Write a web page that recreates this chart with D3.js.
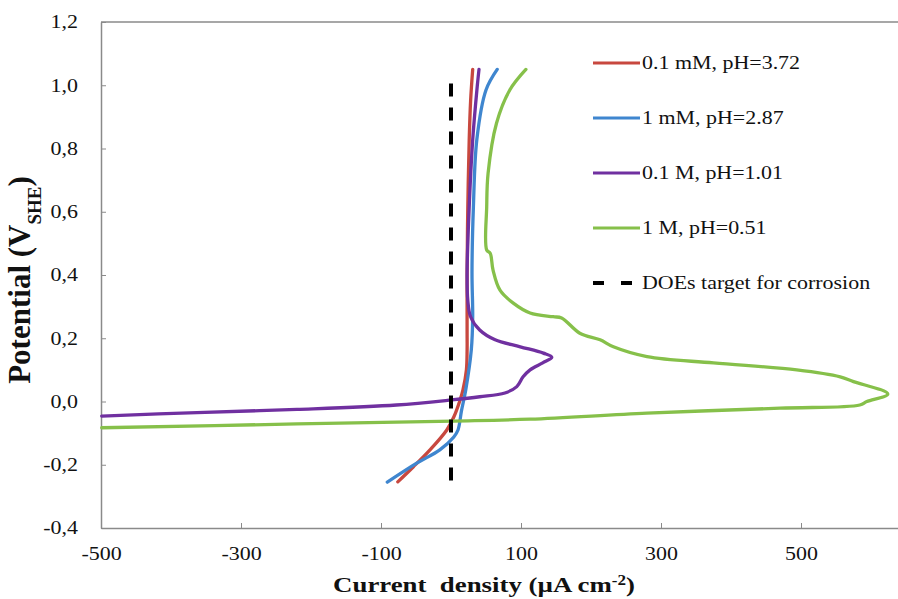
<!DOCTYPE html>
<html>
<head>
<meta charset="utf-8">
<script src="https://cdn.jsdelivr.net/npm/d3@7"></script>
<style>
	body { margin: 0; background: #fff; }
	svg { display: block; }
	text { font-family: "Liberation Serif", "Times New Roman", serif; }
</style>
</head>
<body>
<svg id="chart" width="898" height="599"></svg>
<script>
// polarisation curves, [current density µA/cm², potential V]
const red01mM = [[-76,-0.254],[-54,-0.207],[-30,-0.153],[-6,-0.09],[4,-0.049],[13,0.005],[17,0.036],[22,0.1],[23,0.163],[23,0.226],[23,0.406],[24,0.615],[26,0.827],[28,0.95],[31,1.05]];
const blue1mM = [[-91,-0.255],[-49,-0.195],[-16,-0.153],[4,-0.112],[10,-0.09],[15,-0.029],[21,0.036],[29,0.163],[31,0.268],[30,0.406],[32,0.615],[37,0.83],[50,0.985],[66,1.05]];
const purple01M = [[-499,-0.046],[-363,-0.035],[-220,-0.025],[-78,-0.011],[1,0.005],[41,0.015],[77,0.027],[94,0.047],[103,0.078],[113,0.1],[131,0.122],[144,0.14],[132,0.153],[99,0.173],[63,0.195],[41,0.226],[28,0.268],[24,0.32],[23,0.406],[26,0.615],[31,0.827],[37,0.985],[40,1.05]];
const green1M = [[-499,-0.083],[-220,-0.071],[3,-0.062],[113,-0.056],[280,-0.037],[470,-0.021],[584,-0.011],[594,0.0],[624,0.024],[575,0.063],[556,0.078],[494,0.1],[375,0.122],[280,0.142],[232,0.173],[213,0.195],[184,0.216],[158,0.264],[146,0.268],[113,0.28],[89,0.311],[70,0.352],[60,0.416],[56,0.469],[51,0.479],[51,0.616],[53,0.722],[65,0.88],[84,0.985],[107,1.05]];
const doeTarget = [[0,-0.25],[0,1.03]];

const seriesNames = ['0.1 mM, pH=3.72','1 mM, pH=2.87','0.1 M, pH=1.01','1 M, pH=0.51','DOEs target for corrosion'];
const seriesColors = ['#c8483f','#3f86cf','#7030a0','#86c04a','#000'];
const xTicks = [-500,-300,-100,100,300,500];
const yTicks = [-0.4,-0.2,0,0.2,0.4,0.6,0.8,1.0,1.2];

const svg = d3.select('#chart');
const font = '"Liberation Serif", "Times New Roman", serif';
const stretch = 1.22; // the source picture is widened a bit

const x = d3.scaleLinear().domain([-500,700]).range([101,941]);
const y = d3.scaleLinear().domain([-0.4,1.2]).range([528,22]);

const locale = d3.formatLocale({decimal: ',', thousands: '.', grouping: [3], currency: ['',''], minus: '-'});
const fmtY = locale.format('.1f');

const axisColor = '#8a8a8a';

// frame top line
svg.append('line')
	.attr('x1', x(-500)).attr('x2', 898)
	.attr('y1', y(1.2)).attr('y2', y(1.2))
	.attr('stroke', axisColor).attr('stroke-width', 1.5);

const xAxis = svg.append('g')
	.attr('transform', `translate(0,${y(-0.4)})`)
	.call(d3.axisBottom(x).tickValues(xTicks).tickSizeInner(-5).tickSizeOuter(0).tickPadding(19).tickFormat(d => String(d)));

const yAxis = svg.append('g')
	.attr('transform', `translate(${x(-500)},0)`)
	.call(d3.axisLeft(y).tickValues(yTicks).tickSizeInner(-5).tickSizeOuter(0).tickFormat(fmtY));

[xAxis, yAxis].forEach(a => {
	a.attr('font-family', null).attr('font-size', null);
	a.select('.domain').attr('stroke', axisColor).attr('stroke-width', 1.5);
	a.selectAll('.tick line').attr('stroke', axisColor).attr('stroke-width', 1);
	a.selectAll('.tick text')
		.attr('fill', '#111')
		.style('font-family', font)
		.style('font-size', '18px');
});
xAxis.selectAll('.tick text').attr('transform', `scale(${stretch},1)`);
yAxis.selectAll('.tick text')
	.attr('x', -23 / stretch)
	.attr('transform', `scale(${stretch},1)`);

// axis titles
const xTitle = svg.append('text')
	.attr('transform', `translate(484,592) scale(${stretch},1)`)
	.attr('text-anchor', 'middle')
	.style('font-family', font)
	.style('font-weight', 'bold')
	.style('font-size', '22px')
	.attr('fill', '#111');
xTitle.append('tspan').text('Current\u00a0 density (µA cm');
xTitle.append('tspan').attr('baseline-shift', 'super').style('font-size', '14px').text('-2');
xTitle.append('tspan').text(')');

const yTitle = svg.append('text')
	.attr('transform', 'translate(30,280) rotate(-90)')
	.attr('text-anchor', 'middle')
	.style('font-family', font)
	.style('font-weight', 'bold')
	.style('font-size', '31px')
	.attr('fill', '#111');
yTitle.append('tspan').text('Potential (V');
yTitle.append('tspan').attr('baseline-shift', 'sub').style('font-size', '19px').text('SHE');
yTitle.append('tspan').text(')');

// curves
const line = d3.line()
	.x(d => x(d[0]))
	.y(d => y(d[1]))
	.curve(d3.curveCatmullRom.alpha(0.5));

const curves = [red01mM, blue1mM, purple01M, green1M];
const plot = svg.append('g').attr('class', 'curves');

curves.forEach((data, i) => {
	plot.append('path')
		.datum(data)
		.attr('fill', 'none')
		.attr('stroke', seriesColors[i])
		.attr('stroke-width', 3.3)
		.attr('stroke-linejoin', 'round')
		.attr('stroke-linecap', 'round')
		.attr('d', line);
});

plot.append('path')
	.datum(doeTarget)
	.attr('fill', 'none')
	.attr('stroke', '#000')
	.attr('stroke-width', 4)
	.attr('stroke-dasharray', '13,11')
	.attr('d', d3.line().x(d => x(d[0])).y(d => y(d[1])));

// legend
const legend = svg.append('g').attr('class', 'legend');
seriesNames.forEach((name, i) => {
	const ly = 63 + i * 55;
	const row = legend.append('g');
	row.append('line')
		.attr('x1', 593).attr('x2', 640)
		.attr('y1', ly).attr('y2', ly)
		.attr('stroke', seriesColors[i])
		.attr('stroke-width', i === 4 ? 4 : 3)
		.attr('stroke-dasharray', i === 4 ? '11,17' : null);
	row.append('text')
		.attr('transform', `translate(642,${ly + 6}) scale(${stretch},1)`)
		.style('font-family', font)
		.style('font-size', '18px')
		.attr('fill', '#111')
		.text(name);
});
</script>
</body>
</html>
